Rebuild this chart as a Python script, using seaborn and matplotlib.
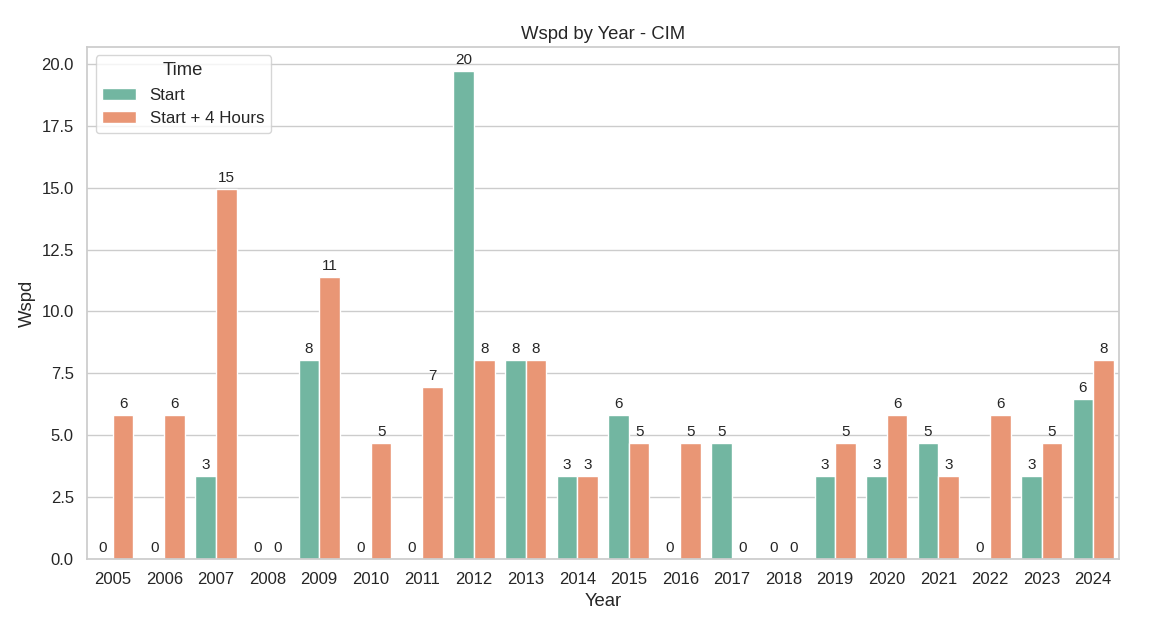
import numpy as np
import pandas as pd
import matplotlib
matplotlib.use("Agg")
import matplotlib.pyplot as plt
import seaborn as sns

# values
years = [2005, 2006, 2007, 2008, 2009, 2010, 2011, 2012, 2013, 2014,
         2015, 2016, 2017, 2018, 2019, 2020, 2021, 2022, 2023, 2024]
wspd_start = [0, 0, 3.35, 0, 8.05, 0, 0, 19.7, 8.05, 3.35,
              5.8, 0, 4.7, 0, 3.35, 3.35, 4.7, 0, 3.35, 6.45]
wspd_start_4h = [5.8, 5.8, 14.95, 0, 11.4, 4.7, 6.95, 8.05, 8.05, 3.35,
                 4.7, 4.7, 0, 0, 4.7, 5.8, 3.35, 5.8, 4.7, 8.05]
time_labels = ["Start", "Start + 4 Hours"]

df = pd.DataFrame({
    "Year": years * 2,
    "Wspd": wspd_start + wspd_start_4h,
    "Time": [time_labels[0]] * len(years) + [time_labels[1]] * len(years),
})

sns.set_theme(style="whitegrid")
plt.rcParams['font.family'] = ['Liberation Sans', 'DejaVu Sans']

fig, ax = plt.subplots(figsize=(11.5, 6.32), dpi=100)
fig.subplots_adjust(left=0.0757, right=0.973, top=0.9256, bottom=0.1155)

sns.barplot(data=df, x="Year", y="Wspd", hue="Time", palette="Set2",
            edgecolor="white", ax=ax)

for container in ax.containers:
    ax.bar_label(container, fmt="%.0f", padding=3, fontsize=11)

ax.set_title("Wspd by Year - CIM", fontsize=13.3)
ax.set_xlabel("Year", fontsize=13.3)
ax.set_ylabel("Wspd", fontsize=13.3)
ax.tick_params(axis="both", labelsize=12)
ax.legend(title="Time", loc="upper left", fontsize=12.2, title_fontsize=13.3)

plt.savefig("out.png", dpi=100)
